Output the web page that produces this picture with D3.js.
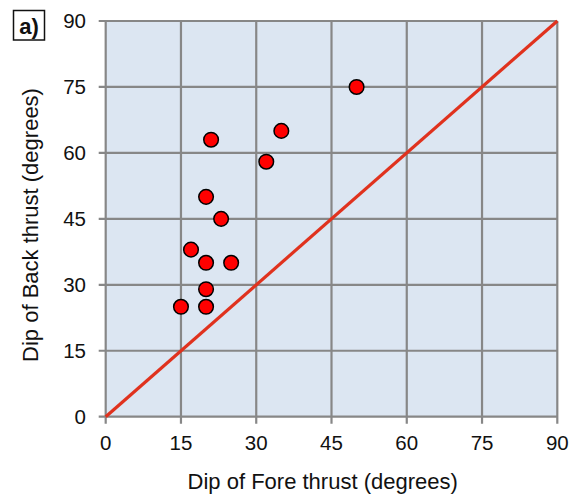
<!DOCTYPE html>
<html><head><meta charset="utf-8">
<script src="https://cdn.jsdelivr.net/npm/d3@7"></script>
<style>body{margin:0;background:#fff}svg{display:block;font-family:"Liberation Sans",Arial,sans-serif}</style>
</head><body><svg id="c" width="573" height="500"></svg>
<script>
const foreDip = [15, 20, 20, 20, 17, 25, 23, 20, 21, 32, 35, 50];
const backDip = [25, 25, 29, 35, 38, 35, 45, 50, 63, 58, 65, 75];
const tickValues = [0, 15, 30, 45, 60, 75, 90];
const xTitle = "Dip of Fore thrust (degrees)";
const yTitle = "Dip of Back thrust (degrees)";
const panelLabel = "a)";

const svg = d3.select("#c");
const L = 105.7, R = 557.3, T = 21, B = 416.7;
const x = d3.scaleLinear().domain([0, 90]).range([L, R]);
const y = d3.scaleLinear().domain([0, 90]).range([B, T]);

svg.append("rect").attr("x", L).attr("y", T).attr("width", R - L).attr("height", B - T).attr("fill", "#dce6f2");

const grid = svg.append("g").attr("stroke", "#878787").attr("stroke-width", 2.2);
tickValues.forEach(v => {
  grid.append("line").attr("x1", x(v)).attr("x2", x(v)).attr("y1", T).attr("y2", B + 7);
  grid.append("line").attr("x1", L - 7).attr("x2", R).attr("y1", y(v)).attr("y2", y(v));
});

// 1:1 line
svg.append("line").attr("x1", x(0)).attr("y1", y(0)).attr("x2", x(90)).attr("y2", y(90))
  .attr("stroke", "#e0321e").attr("stroke-width", 3.2);

svg.append("g").selectAll("circle").data(foreDip.map((d, i) => [d, backDip[i]])).join("circle")
  .attr("cx", d => x(d[0])).attr("cy", d => y(d[1])).attr("r", 7.3)
  .attr("fill", "#ff0000").attr("stroke", "#000").attr("stroke-width", 1.5);

const tf = 20.5;
svg.append("g").selectAll("text").data(tickValues).join("text")
  .attr("x", d => x(d)).attr("y", 450).attr("text-anchor", "middle")
  .attr("font-size", tf).attr("fill", "#111").text(d => d);
svg.append("g").selectAll("text").data(tickValues).join("text")
  .attr("x", 86).attr("y", d => y(d) + 7.3).attr("text-anchor", "end")
  .attr("font-size", tf).attr("fill", "#111").text(d => d);

svg.append("text").attr("x", 322.7).attr("y", 489).attr("text-anchor", "middle")
  .attr("font-size", 22).attr("fill", "#111").text(xTitle);
svg.append("text").attr("transform", "translate(37.5,225) rotate(-90)").attr("text-anchor", "middle")
  .attr("font-size", 22).attr("fill", "#111").text(yTitle);

svg.append("rect").attr("x", 13.5).attr("y", 10.5).attr("width", 31).attr("height", 29.5)
  .attr("fill", "#fff").attr("stroke", "#111").attr("stroke-width", 1.5);
svg.append("text").attr("x", 29).attr("y", 33.5).attr("text-anchor", "middle")
  .attr("font-size", 22).attr("font-weight", "bold").attr("fill", "#111").text(panelLabel);
</script></body></html>
